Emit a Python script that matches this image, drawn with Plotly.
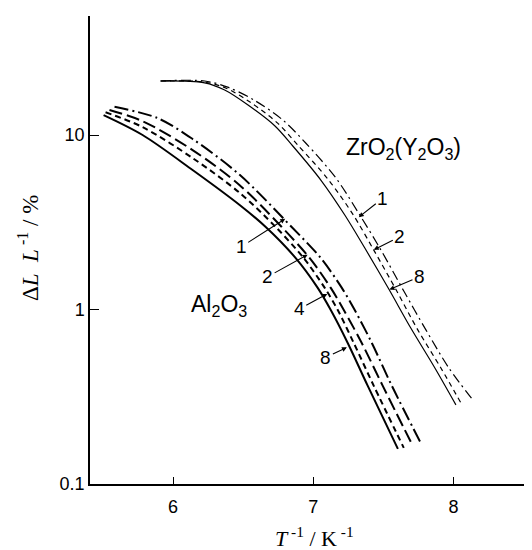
import numpy as np
import plotly.graph_objects as go

# ---- Al2O3 curves (labels 1, 2, 4, 8) ----
al8_x = [5.504, 5.782, 6.139, 6.475, 6.661, 6.875, 7.032, 7.125, 7.246, 7.389, 7.604]
al8_y = [13.0, 10.0, 6.30, 3.97, 2.97, 1.97, 1.33, 0.993, 0.643, 0.365, 0.159]
al4_x = [5.518, 5.782, 6.139, 6.475, 6.732, 6.932, 7.082, 7.175, 7.289, 7.432, 7.646]
al4_y = [13.5, 11.1, 7.38, 4.66, 2.97, 1.97, 1.33, 0.993, 0.643, 0.365, 0.161]
al2_x = [5.546, 5.782, 6.139, 6.475, 6.775, 6.975, 7.125, 7.218, 7.346, 7.496, 7.711]
al2_y = [13.9, 12.0, 8.20, 5.16, 2.97, 1.97, 1.33, 0.993, 0.643, 0.365, 0.165]
al1_x = [5.582, 5.889, 6.139, 6.475, 6.846, 7.054, 7.204, 7.296, 7.418, 7.561, 7.775]
al1_y = [14.5, 12.5, 9.49, 5.91, 2.97, 1.97, 1.33, 0.993, 0.643, 0.365, 0.167]

# ---- ZrO2(Y2O3) curves (labels 1, 2, 8) ----
zr8_x = [5.911, 6.225, 6.368, 6.532, 6.725, 6.854, 7.054, 7.225, 7.368, 7.539, 7.696, 7.868, 8.018]
zr8_y = [20.4, 19.9, 18.1, 14.9, 11.3, 8.65, 5.52, 3.48, 2.25, 1.31, 0.783, 0.462, 0.284]
zr2_x = [5.911, 6.225, 6.375, 6.546, 6.746, 6.889, 7.104, 7.282, 7.432, 7.596, 7.746, 7.911, 8.054]
zr2_y = [20.4, 20.1, 18.6, 15.5, 11.7, 8.77, 5.60, 3.52, 2.19, 1.276, 0.764, 0.462, 0.291]
zr1_x = [5.911, 6.225, 6.389, 6.575, 6.782, 6.946, 7.161, 7.332, 7.475, 7.646, 7.804, 7.968, 8.139]
zr1_y = [20.4, 20.4, 18.8, 15.9, 12.2, 9.0, 5.68, 3.48, 2.25, 1.276, 0.764, 0.462, 0.303]

# ---- axis ticks ----
x_ticks = [6, 7, 8]
x_ticktext = ["6", "7", "8"]
y_ticks = [0.1, 1, 10]
y_ticktext = ["0.1", "1", "10"]

# ---- curve labels: text, arrow-tip x, arrow-tip y, text offset (px) ----
label_text = ["1", "2", "4", "8", "1", "2", "8"]
label_x = [6.800, 6.960, 7.100, 7.240, 7.325, 7.432, 7.544]
label_y = [3.31, 2.06, 1.228, 0.607, 3.38, 2.20, 1.30]
label_ax = [-44, -40, -28, -21, 24, 26, 30]
label_ay = [28, 22, 15, 10, -19, -13, -13]

fig = go.Figure()

def add_curve(x, y, width, dash):
    fig.add_trace(go.Scatter(
        x=x, y=y, mode="lines",
        line=dict(color="black", width=width, dash=dash, shape="spline", smoothing=0.9),
        showlegend=False, hoverinfo="skip"))

add_curve(al8_x, al8_y, 2.0, "solid")
add_curve(al4_x, al4_y, 2.0, "6px,4px")
add_curve(al2_x, al2_y, 2.0, "13px,5px")
add_curve(al1_x, al1_y, 2.0, "14px,4px,2px,4px")
add_curve(zr8_x, zr8_y, 1.2, "solid")
add_curve(zr2_x, zr2_y, 1.2, "5px,4px")
add_curve(zr1_x, zr1_y, 1.2, "10px,4px,2px,4px")

annotations = []
for t, x, y, ax, ay in zip(label_text, label_x, label_y, label_ax, label_ay):
    annotations.append(dict(
        x=x, y=np.log10(y), xref="x", yref="y", text=t,
        showarrow=True, ax=ax, ay=ay, arrowhead=2, arrowsize=0.9,
        arrowwidth=1.1, arrowcolor="black", standoff=0,
        font=dict(family="Liberation Sans, Arial", size=19, color="black")))

annotations.append(dict(
    x=7.645, y=np.log10(8.42), xref="x", yref="y",
    text="ZrO<sub>2</sub>(Y<sub>2</sub>O<sub>3</sub>)", showarrow=False,
    xanchor="center", yanchor="middle",
    font=dict(family="Liberation Sans, Arial", size=23, color="black")))
annotations.append(dict(
    x=6.325, y=np.log10(1.05), xref="x", yref="y",
    text="Al<sub>2</sub>O<sub>3</sub>", showarrow=False,
    xanchor="center", yanchor="middle",
    font=dict(family="Liberation Sans, Arial", size=23, color="black")))

# axis titles
annotations.append(dict(
    x=(20 - 82) / 450, y=(476 - 240) / 468, xref="paper", yref="paper",
    xanchor="center", yanchor="middle",
    text="Δ<i>L</i>  <i>L</i><sup> -1</sup> / %", textangle=-90, showarrow=False,
    font=dict(family="Liberation Serif, Times New Roman", size=23, color="black")))
annotations.append(dict(
    x=(306 - 82) / 450, y=(476 - 529) / 468, xref="paper", yref="paper",
    xanchor="center", yanchor="middle",
    text="<i>T</i><sup> -1</sup> / K<sup> -1</sup>", showarrow=False,
    font=dict(family="Liberation Serif, Times New Roman", size=22, color="black")))

fig.update_layout(
    width=532, height=550,
    margin=dict(l=82, r=0, t=8, b=74),
    paper_bgcolor="white", plot_bgcolor="white",
    annotations=annotations,
    showlegend=False,
)
fig.update_xaxes(
    range=[5.407, 8.618], tickvals=x_ticks, ticktext=x_ticktext,
    showgrid=False, zeroline=False, showline=True, linecolor="black", linewidth=1.5,
    ticks="inside", ticklen=7, tickwidth=1.2, tickcolor="black", ticklabelstandoff=6,
    tickfont=dict(family="Liberation Sans, Arial", size=18, color="black"))
fig.update_yaxes(
    type="log", range=[-1, 1.682], tickvals=y_ticks, ticktext=y_ticktext,
    showgrid=False, zeroline=False, showline=True, linecolor="black", linewidth=1.5,
    ticks="inside", ticklen=9, tickwidth=1.2, tickcolor="black",
    tickfont=dict(family="Liberation Sans, Arial", size=18, color="black"))

fig.write_html("out.html")
